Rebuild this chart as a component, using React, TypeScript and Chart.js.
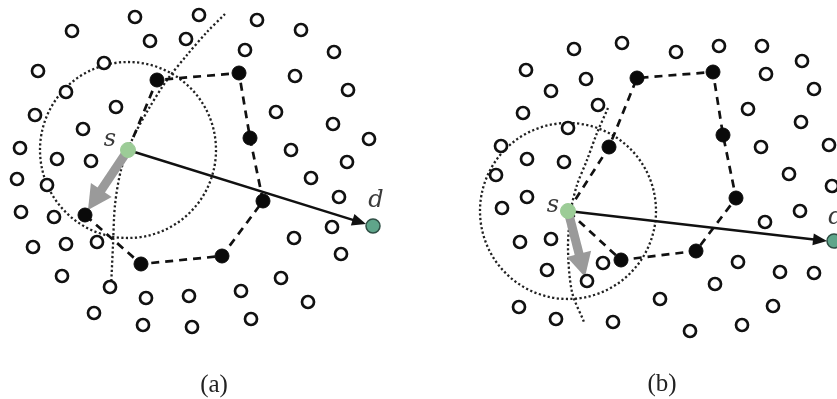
import React, { useEffect, useRef } from "react";
import { Chart, registerables } from "chart.js";

Chart.register(...registerables);

type P = { x: number; y: number };

// ---- data (diagram units: 837 x 399) ----
const hollowNodes: P[] = [
  // panel (a)
  { x: 135, y: 17 }, { x: 199, y: 15 }, { x: 72, y: 31 }, { x: 150, y: 41 }, { x: 186, y: 39 },
  { x: 38, y: 71 }, { x: 104, y: 63 }, { x: 66, y: 92 }, { x: 35, y: 115 }, { x: 116, y: 107 },
  { x: 83, y: 129 }, { x: 20, y: 148 }, { x: 57, y: 159 }, { x: 91, y: 161 },
  { x: 257, y: 20 }, { x: 301, y: 30 }, { x: 245, y: 50 }, { x: 334, y: 52 }, { x: 295, y: 76 },
  { x: 348, y: 90 }, { x: 276, y: 112 }, { x: 333, y: 124 }, { x: 369, y: 139 }, { x: 291, y: 150 },
  { x: 347, y: 162 },
  { x: 17, y: 179 }, { x: 47, y: 185 }, { x: 21, y: 212 }, { x: 54, y: 217 }, { x: 33, y: 247 },
  { x: 66, y: 244 }, { x: 97, y: 242 }, { x: 62, y: 276 }, { x: 110, y: 287 }, { x: 146, y: 298 },
  { x: 189, y: 296 }, { x: 94, y: 313 }, { x: 143, y: 325 }, { x: 192, y: 327 },
  { x: 311, y: 178 }, { x: 339, y: 197 }, { x: 332, y: 227 }, { x: 294, y: 238 }, { x: 341, y: 254 },
  { x: 281, y: 278 }, { x: 241, y: 291 }, { x: 308, y: 302 }, { x: 251, y: 319 },
  // panel (b)
  { x: 574, y: 49 }, { x: 622, y: 43 }, { x: 526, y: 70 }, { x: 586, y: 79 }, { x: 551, y: 91 },
  { x: 598, y: 105 }, { x: 523, y: 113 }, { x: 568, y: 128 }, { x: 501, y: 146 }, { x: 527, y: 159 },
  { x: 564, y: 162 },
  { x: 676, y: 52 }, { x: 719, y: 46 }, { x: 762, y: 46 }, { x: 802, y: 61 }, { x: 766, y: 74 },
  { x: 814, y: 89 }, { x: 748, y: 109 }, { x: 801, y: 122 }, { x: 761, y: 147 }, { x: 829, y: 145 },
  { x: 496, y: 175 }, { x: 527, y: 197 }, { x: 502, y: 208 }, { x: 520, y: 242 }, { x: 551, y: 239 },
  { x: 547, y: 270 }, { x: 603, y: 263 }, { x: 587, y: 281 }, { x: 519, y: 307 }, { x: 556, y: 319 },
  { x: 613, y: 322 },
  { x: 789, y: 174 }, { x: 832, y: 186 }, { x: 800, y: 211 }, { x: 765, y: 222 }, { x: 738, y: 262 },
  { x: 780, y: 272 }, { x: 814, y: 273 }, { x: 715, y: 284 }, { x: 660, y: 299 }, { x: 773, y: 306 },
  { x: 742, y: 325 }, { x: 690, y: 331 },
];

const relayNodes: P[] = [
  { x: 157, y: 80 }, { x: 239, y: 73 }, { x: 250, y: 138 }, { x: 263, y: 201 },
  { x: 222, y: 256 }, { x: 141, y: 264 }, { x: 85, y: 215 },
  { x: 609, y: 147 }, { x: 637, y: 78 }, { x: 713, y: 72 }, { x: 723, y: 135 },
  { x: 736, y: 198 }, { x: 696, y: 251 }, { x: 621, y: 260 },
];

const sourceNodes: P[] = [{ x: 128, y: 150 }, { x: 568, y: 211 }];
const destNodes: P[] = [{ x: 373, y: 226 }, { x: 834, y: 241 }];

const perimeterA: P[] = [
  { x: 128, y: 150 }, { x: 157, y: 80 }, { x: 239, y: 73 }, { x: 250, y: 138 }, { x: 263, y: 201 },
  { x: 222, y: 256 }, { x: 141, y: 264 }, { x: 85, y: 215 },
];
const perimeterB: P[] = [
  { x: 568, y: 211 }, { x: 609, y: 147 }, { x: 637, y: 78 }, { x: 713, y: 72 }, { x: 723, y: 135 },
  { x: 736, y: 198 }, { x: 696, y: 251 }, { x: 621, y: 260 }, { x: 568, y: 211 },
];

const boundaryA: P[] = [
  { x: 225, y: 14 }, { x: 207, y: 32 }, { x: 187, y: 55 }, { x: 167, y: 80 }, { x: 148, y: 110 },
  { x: 132, y: 140 }, { x: 121, y: 170 }, { x: 115, y: 205 }, { x: 113, y: 245 }, { x: 111, y: 288 },
];
const boundaryB: P[] = [
  { x: 608, y: 108 }, { x: 597, y: 133 }, { x: 587, y: 160 }, { x: 577, y: 185 }, { x: 571, y: 210 },
  { x: 568, y: 248 }, { x: 572, y: 292 }, { x: 584, y: 322 },
];

const greedyA: P[] = [{ x: 128, y: 150 }, { x: 366, y: 224 }];
const greedyB: P[] = [{ x: 568, y: 211 }, { x: 827, y: 241 }];

const forwardA: P[] = [{ x: 128, y: 150 }, { x: 88, y: 210 }];
const forwardB: P[] = [{ x: 568, y: 211 }, { x: 585, y: 277 }];

const rangeCenters: P[] = [{ x: 128, y: 150 }, { x: 568, y: 211 }];
const rangeRadius = 88;

const nodeLabelText = ["s", "d", "s", "d"];
const nodeLabelPos: P[] = [{ x: 110, y: 140 }, { x: 376, y: 201 }, { x: 553, y: 206 }, { x: 836, y: 218 }];

const captionText = ["(a)", "(b)"];
const captionPos: P[] = [{ x: 214, y: 385 }, { x: 662, y: 384 }];

// ---- plugin ----
const diagramPlugin = {
  id: "diagram",
  afterDatasetDraw(chart: any, args: any) {
    const ds: any = chart.data.datasets[args.index];
    const meta = args.meta;
    const ctx: CanvasRenderingContext2D = chart.ctx;
    const xs = chart.scales.x;
    const pts = meta.data.map((e: any) => ({ x: e.x, y: e.y }));
    ctx.save();
    if (ds.ring) {
      pts.forEach((p: any, i: number) => {
        const c = ds.data[i];
        const r = xs.getPixelForValue(c.x + ds.ring) - xs.getPixelForValue(c.x);
        ctx.beginPath();
        ctx.setLineDash([2.2, 2.4]);
        ctx.lineWidth = 2.3;
        ctx.strokeStyle = "#222222";
        ctx.arc(p.x, p.y, r, 0, Math.PI * 2);
        ctx.stroke();
      });
    }
    if (ds.arrow) {
      const a = ds.arrow;
      const p0 = pts[0];
      const p1 = pts[pts.length - 1];
      const ang = Math.atan2(p1.y - p0.y, p1.x - p0.x);
      const bx = p1.x - Math.cos(ang) * a.len;
      const by = p1.y - Math.sin(ang) * a.len;
      ctx.setLineDash([]);
      ctx.strokeStyle = a.color;
      ctx.fillStyle = a.color;
      ctx.lineWidth = a.width;
      ctx.lineCap = "butt";
      ctx.beginPath();
      ctx.moveTo(p0.x, p0.y);
      ctx.lineTo(bx + Math.cos(ang) * 1, by + Math.sin(ang) * 1);
      ctx.stroke();
      const nx = -Math.sin(ang) * a.head / 2;
      const ny = Math.cos(ang) * a.head / 2;
      ctx.beginPath();
      ctx.moveTo(p1.x, p1.y);
      ctx.lineTo(bx + nx, by + ny);
      ctx.lineTo(bx - nx, by - ny);
      ctx.closePath();
      ctx.fill();
    }
    if (ds.texts) {
      ctx.fillStyle = ds.textColor;
      ctx.font = ds.font;
      ctx.textAlign = "center";
      ctx.textBaseline = "middle";
      pts.forEach((p: any, i: number) => ctx.fillText(ds.texts[i], p.x, p.y));
    }
    ctx.restore();
  },
};

export default function App() {
  const ref = useRef<HTMLCanvasElement | null>(null);
  useEffect(() => {
    document.body.style.margin = "0";
    document.body.style.background = "#ffffff";
    const canvas = ref.current;
    if (!canvas) return;
    const hidden = { pointRadius: 0, pointHoverRadius: 0, showLine: false, borderWidth: 0 };
    const chart = new Chart(canvas, {
      type: "scatter",
      data: {
        datasets: [
          { label: "captions", data: captionPos, ...hidden, texts: captionText, font: '25px "Liberation Serif", serif', textColor: "#222", order: 1 } as any,
          { label: "labels", data: nodeLabelPos, ...hidden, texts: nodeLabelText, font: 'italic 24px "DejaVu Serif", serif', textColor: "#3a3a3a", order: 1 } as any,
          { label: "source", data: sourceNodes, pointRadius: 7.5, pointBackgroundColor: "#9ccc97", pointBorderColor: "#9ccc97", pointBorderWidth: 1, showLine: false, order: 2 },
          { label: "dest", data: destNodes, pointRadius: 7, pointBackgroundColor: "#5fa58a", pointBorderColor: "#2f4f45", pointBorderWidth: 1.5, showLine: false, order: 2 },
          { label: "relay", data: relayNodes, pointRadius: 7, pointBackgroundColor: "#0a0a0a", pointBorderColor: "#0a0a0a", pointBorderWidth: 1, showLine: false, order: 3 },
          { label: "nodes", data: hollowNodes, pointRadius: 6, pointBackgroundColor: "#ffffff", pointBorderColor: "#111111", pointBorderWidth: 2.7, showLine: false, order: 4 },
          { label: "forwardA", data: forwardA, ...hidden, arrow: { color: "#9a9a9a", width: 9, len: 24, head: 25 }, order: 5 } as any,
          { label: "forwardB", data: forwardB, ...hidden, arrow: { color: "#9a9a9a", width: 9, len: 24, head: 25 }, order: 5 } as any,
          { label: "greedyA", data: greedyA, ...hidden, arrow: { color: "#111111", width: 2.4, len: 14, head: 12 }, order: 6 } as any,
          { label: "greedyB", data: greedyB, ...hidden, arrow: { color: "#111111", width: 2.4, len: 14, head: 12 }, order: 6 } as any,
          { label: "perimeterA", data: perimeterA, showLine: true, pointRadius: 0, borderColor: "#111111", borderWidth: 2.7, borderDash: [8, 6], tension: 0, order: 7 },
          { label: "perimeterB", data: perimeterB, showLine: true, pointRadius: 0, borderColor: "#111111", borderWidth: 2.7, borderDash: [8, 6], tension: 0, order: 7 },
          { label: "boundaryA", data: boundaryA, showLine: true, pointRadius: 0, borderColor: "#222222", borderWidth: 2.3, borderDash: [2.2, 2.4], tension: 0.3, order: 8 },
          { label: "boundaryB", data: boundaryB, showLine: true, pointRadius: 0, borderColor: "#222222", borderWidth: 2.3, borderDash: [2.2, 2.4], tension: 0.3, order: 8 },
          { label: "range", data: rangeCenters, ...hidden, ring: rangeRadius, order: 9 } as any,
        ],
      },
      options: {
        responsive: false,
        animation: false,
        events: [],
        layout: { padding: 0, autoPadding: false },
        plugins: { legend: { display: false }, tooltip: { enabled: false } },
        scales: {
          x: { type: "linear", min: 0, max: 837, display: false },
          y: { type: "linear", min: 0, max: 399, reverse: true, display: false },
        },
      },
      plugins: [diagramPlugin],
    });
    return () => chart.destroy();
  }, []);
  return (
    <div style={{ width: 837, height: 399, background: "#fff" }}>
      <canvas ref={ref} width={837} height={399} style={{ display: "block" }} />
    </div>
  );
}
